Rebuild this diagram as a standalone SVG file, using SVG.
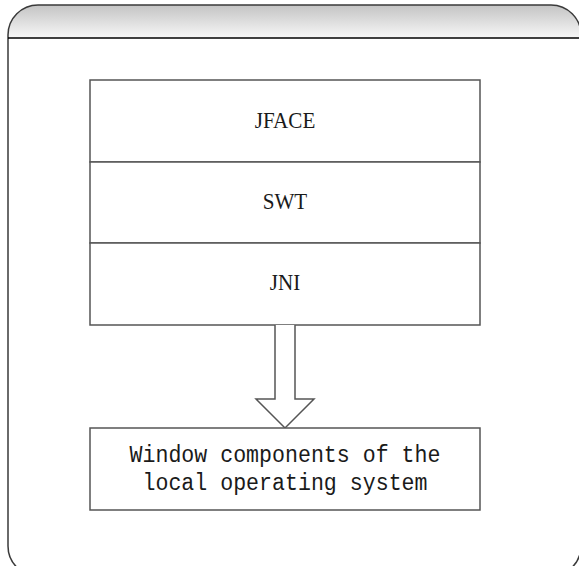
<svg xmlns="http://www.w3.org/2000/svg" width="579" height="566" viewBox="0 0 579 566">
  <defs>
    <linearGradient id="hdr" x1="0" y1="0" x2="0" y2="1">
      <stop offset="0" stop-color="#c4c4c4"/>
      <stop offset="1" stop-color="#f7f7f7"/>
    </linearGradient>
    <clipPath id="frameClip">
      <path d="M8,35 A30,30 0 0 1 38,5 L551,5 A30,30 0 0 1 581,35 L581,546 A30,30 0 0 1 551,576 L38,576 A30,30 0 0 1 8,546 Z"/>
    </clipPath>
  </defs>
  <style>
    .box { fill: #ffffff; stroke: #555555; stroke-width: 1.5; }
    .lbl { font-family: "Liberation Serif", "Noto Sans CJK SC", serif; font-size: 24px; fill: #1a1a1a; text-anchor: middle; }
    .mono { font-family: "Liberation Mono", "DejaVu Sans Mono", monospace; font-size: 21.6px; fill: #1a1a1a; text-anchor: middle; }
  </style>
  <rect width="579" height="566" fill="#ffffff"/>
  <g id="frame">
    <rect x="8" y="5" width="573" height="33" fill="url(#hdr)" clip-path="url(#frameClip)"/>
    <path d="M8,35 A30,30 0 0 1 38,5 L551,5 A30,30 0 0 1 581,35 L581,546 A30,30 0 0 1 551,576 L38,576 A30,30 0 0 1 8,546 Z" fill="none" stroke="#3a3a3a" stroke-width="1.5"/>
    <line x1="8" y1="38" x2="579" y2="38" stroke="#000000" stroke-width="1.5"/>
  </g>
  <g id="jface">
    <rect class="box" x="90" y="80" width="390" height="82"/>
    <text class="lbl" x="285" y="128" transform="translate(285 0) scale(0.88 1) translate(-285 0)">JFACE</text>
  </g>
  <g id="swt">
    <rect class="box" x="90" y="162" width="390" height="81"/>
    <text class="lbl" x="285" y="209.5" transform="translate(285 0) scale(0.88 1) translate(-285 0)">SWT</text>
  </g>
  <g id="jni">
    <rect class="box" x="90" y="243" width="390" height="82"/>
    <text class="lbl" x="285" y="290" transform="translate(285 0) scale(0.88 1) translate(-285 0)">JNI</text>
  </g>
  <g id="connectors">
    <path d="M275,325 L275,399 L256,399 L285,428 L314,399 L295,399 L295,325" fill="#ffffff" stroke="#555555" stroke-width="1.5"/>
  </g>
  <g id="window">
    <rect class="box" x="90" y="428" width="390" height="82"/>
    <text class="mono" x="285" y="462" transform="translate(0 462) scale(1 1.15) translate(0 -462)">Window components of the</text>
    <text class="mono" x="285" y="490" transform="translate(0 490) scale(1 1.15) translate(0 -490)">local operating system</text>
  </g>
</svg>
